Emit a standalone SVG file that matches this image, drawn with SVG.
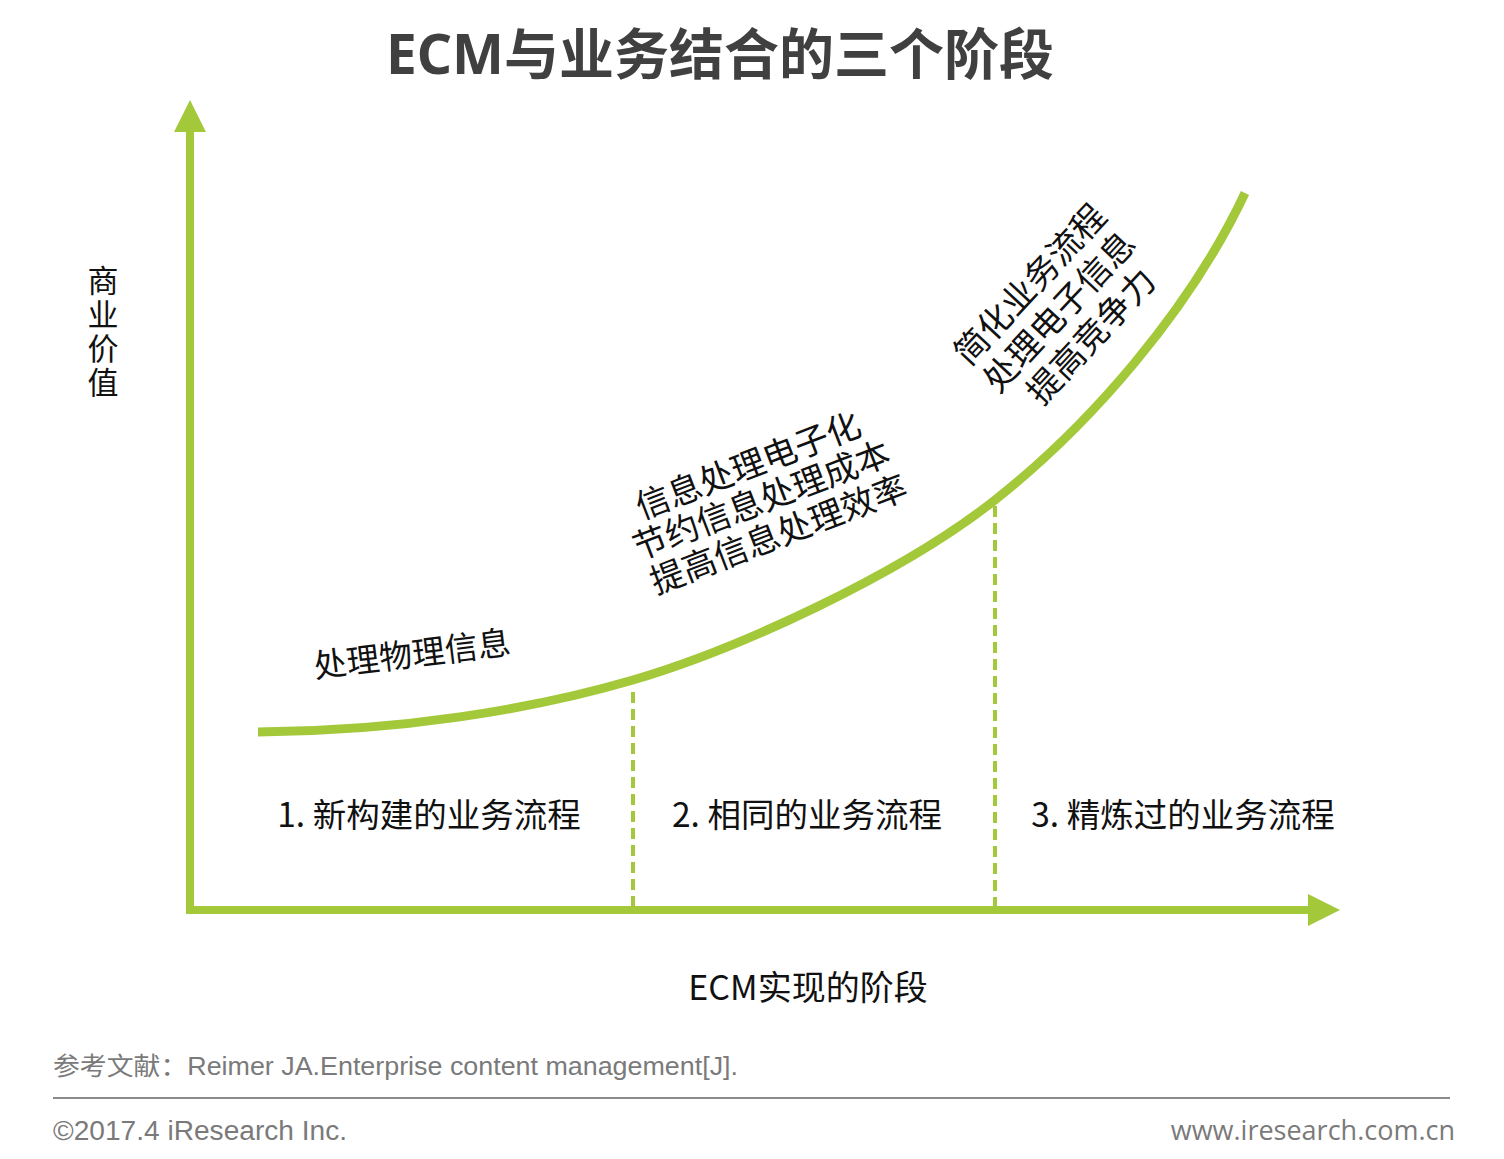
<svg xmlns="http://www.w3.org/2000/svg" width="1504" height="1159" viewBox="0 0 1504 1159">
<defs>
<style>
.cjk{font-family:"Noto Sans CJK SC","Noto Sans",sans-serif;fill:#111}
.title{font-family:"Noto Sans","Noto Sans CJK SC",sans-serif;font-weight:bold;font-size:55px;fill:#404040}
.lbl{font-size:33.5px}
.foot{font-family:"Liberation Sans","Noto Sans CJK SC",sans-serif;fill:#7a7a7a}
.axis{stroke:#a3c93a;stroke-width:8;fill:none}
.curve{stroke:#a3c93a;stroke-width:9;fill:none}
.dash{stroke:#a3c93a;stroke-width:4;stroke-dasharray:11 6;fill:none}
</style>
<marker id="ah" markerUnits="userSpaceOnUse" markerWidth="34" markerHeight="34" refX="2" refY="16" orient="auto" viewBox="0 0 34 32">
<path d="M0,0 L32,16 L0,32 Z" fill="#a3c93a"/>
</marker>
</defs>
<rect width="1504" height="1159" fill="#ffffff"/>
<text class="title" x="720" y="74" text-anchor="middle">ECM与业务结合的三个阶段</text>

<g id="connectors">
<line class="axis" x1="190" y1="914" x2="190" y2="130" marker-end="url(#ah)"/>
<line class="axis" x1="186" y1="910" x2="1310" y2="910" marker-end="url(#ah)"/>
<path class="curve" d="M258,732 C400,731 530,710 633,680 C736,650 900,575 995,500 C1090,425 1190,310 1245,193"/>
<line class="dash" x1="633" y1="692" x2="633" y2="906"/>
<line class="dash" x1="995" y1="506" x2="995" y2="906"/>
</g>

<g id="y-label">
<text class="cjk" font-size="31" x="103" y="265" writing-mode="vertical-rl" letter-spacing="3">商业价值</text>
</g>

<g id="note-physical" transform="translate(412,654) rotate(-7)">
<text class="cjk" font-size="33" text-anchor="middle" y="12">处理物理信息</text>
</g>

<g id="note-electronic" transform="translate(765,499) rotate(-21)">
<text class="cjk" font-size="34" text-anchor="middle">
<tspan x="0" y="-25">信息处理电子化</tspan>
<tspan x="0" y="12">节约信息处理成本</tspan>
<tspan x="0" y="50">提高信息处理效率</tspan>
</text>
</g>

<g id="note-simplify" transform="translate(1062,309) rotate(-47)">
<text class="cjk" font-size="34" text-anchor="middle">
<tspan x="0" y="-28">简化业务流程</tspan>
<tspan x="0" y="12">处理电子信息</tspan>
<tspan x="0" y="52">提高竞争力</tspan>
</text>
</g>

<g id="stage-1"><text class="cjk lbl" x="429" y="827" text-anchor="middle">1. 新构建的业务流程</text></g>
<g id="stage-2"><text class="cjk lbl" x="807" y="827" text-anchor="middle">2. 相同的业务流程</text></g>
<g id="stage-3"><text class="cjk lbl" x="1183" y="827" text-anchor="middle">3. 精炼过的业务流程</text></g>

<g id="x-label"><text class="cjk" font-size="34" x="808" y="1000" text-anchor="middle">ECM实现的阶段</text></g>

<g id="footer">
<text class="foot" font-size="25" x="53" y="1075" textLength="685" lengthAdjust="spacingAndGlyphs">参考文献：Reimer JA.Enterprise content management[J].</text>
<line x1="53" y1="1098" x2="1450" y2="1098" stroke="#8a8a8a" stroke-width="2"/>
<text class="foot" font-size="27" x="53" y="1140" textLength="294" lengthAdjust="spacingAndGlyphs">©2017.4 iResearch Inc.</text>
<text class="foot" font-size="27" x="1455" y="1140" text-anchor="end" style="font-family:'Open Sans','Noto Sans',sans-serif">www.iresearch.com.cn</text>
</g>
</svg>
